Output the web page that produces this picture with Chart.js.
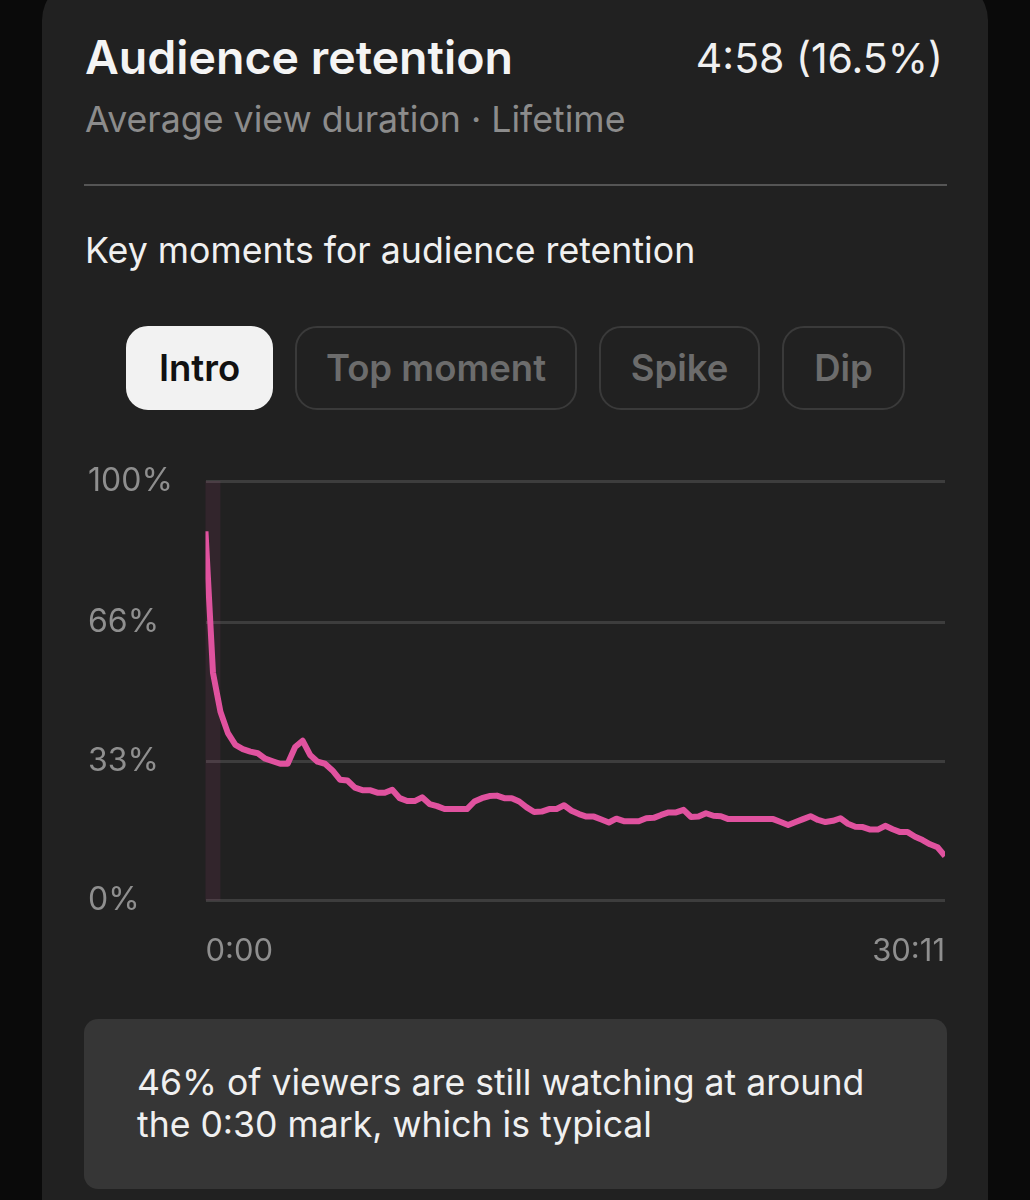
<!DOCTYPE html>
<html>
<head>
<meta charset="utf-8">
<title>Audience retention</title>
<script src="https://cdn.jsdelivr.net/npm/chart.js@4"></script>
<style>
html, body { margin: 0; padding: 0; background: #0a0a0a; }
body { width: 1030px; height: 1200px; overflow: hidden; position: relative; font-family: Inter, "Noto Sans", sans-serif; }
.card { position: absolute; left: 42px; top: -20px; width: 946px; height: 1300px; background: #212121; border-radius: 40px; }
.txt { position: absolute; white-space: nowrap; line-height: 1; }
.title { left: 85px; top: 34px; font-size: 46.5px; font-weight: 600; color: #f4f4f4; }
.stat { right: 87px; top: 38px; font-size: 41px; color: #f0f0f0; }
.sub { left: 85px; top: 102px; font-size: 35.7px; color: #8c8c8c; }
.rule { position: absolute; left: 84px; top: 184px; width: 863px; height: 2px; background: #555; }
.key { left: 85px; top: 233px; font-size: 35.7px; color: #f0f0f0; }
.pill { position: absolute; top: 326px; height: 84px; box-sizing: border-box; border: 2px solid #3a3a3a; border-radius: 22px; color: #6c6c6c; font-size: 36.5px; font-weight: 600; display: flex; align-items: center; justify-content: center; }
.pill.on { background: #f2f2f2; border-color: #f2f2f2; color: #111; }
#wrap { position: absolute; left: 60px; top: 460px; width: 910px; height: 520px; }
.note { position: absolute; left: 84px; top: 1019px; width: 863px; height: 170px; background: #363636; border-radius: 14px; }
.note div { position: absolute; left: 53px; top: 43px; font-size: 35.6px; line-height: 42px; color: #f0f0f0; white-space: nowrap; }
</style>
</head>
<body>
<div class="card"></div>
<div class="txt title">Audience retention</div>
<div class="txt stat">4:58 (16.5%)</div>
<div class="txt sub">Average view duration · Lifetime</div>
<div class="rule"></div>
<div class="txt key">Key moments for audience retention</div>
<div class="pill on" style="left:126px;width:147px">Intro</div>
<div class="pill" style="left:295px;width:282px">Top moment</div>
<div class="pill" style="left:599px;width:161px">Spike</div>
<div class="pill" style="left:782px;width:123px">Dip</div>
<div id="wrap"><canvas id="retentionChart"></canvas></div>
<div class="note"><div>46% of viewers are still watching at around<br>the 0:30 mark, which is typical</div></div>

<script>
// values, one per 1/99 of the video
const retention = [
    88, 54.3, 45, 39.9, 37.1, 36.1, 35.5, 35.1, 33.8, 33.2,
    32.6, 32.6, 36.6, 38.1, 34.7, 33.1, 32.6, 31, 28.8, 28.6,
    26.9, 26.3, 26.3, 25.7, 25.7, 26.4, 24.4, 23.7, 23.7, 24.6,
    23, 22.5, 21.8, 21.8, 21.8, 21.8, 23.6, 24.4, 24.9, 25,
    24.4, 24.4, 23.6, 22.2, 21.1, 21.2, 21.8, 21.8, 22.7, 21.4,
    20.6, 20, 20, 19.3, 18.6, 19.5, 18.9, 18.9, 18.9, 19.6,
    19.7, 20.4, 21, 21, 21.6, 19.9, 20, 20.8, 20.2, 20.1,
    19.4, 19.4, 19.4, 19.4, 19.4, 19.4, 19.4, 18.7, 18, 18.7,
    19.4, 20.1, 19.2, 18.7, 19, 19.6, 18.3, 17.6, 17.5, 16.9,
    16.9, 17.8, 17, 16.3, 16.3, 15.2, 14.4, 13.4, 12.7, 10.6,
];
const yTicks = [0, 33.2, 66.2, 100];
const xTicks = [0, 99];
const xTickLabels = ['0:00', '30:11'];
const introRange = [0, 2];   // the highlighted "Intro" stretch, in point indexes

const introBand = {
    id: 'introBand',
    beforeDatasetsDraw(chart) {
        const { ctx, chartArea, scales } = chart;
        const left = scales.x.getPixelForValue(introRange[0]);
        const right = scales.x.getPixelForValue(introRange[1]);
        ctx.save();
        ctx.fillStyle = 'rgba(224,82,159,0.09)';
        ctx.fillRect(left, chartArea.top, right - left, chartArea.bottom - chartArea.top);
        ctx.restore();
    },
};

new Chart(document.getElementById('retentionChart'), {
    type: 'line',
    data: {
        datasets: [{
            data: retention.map((v, i) => ({ x: i, y: v })),
            borderColor: '#e0529f',
            borderWidth: 6,
            pointRadius: 0,
            tension: 0,
            borderJoinStyle: 'round',
        }],
    },
    plugins: [introBand],
    options: {
        responsive: true,
        maintainAspectRatio: false,
        animation: false,
        layout: { padding: { left: 28, right: 25, top: 21, bottom: 0 } },
        plugins: { legend: { display: false }, tooltip: { enabled: false } },
        scales: {
            x: {
                type: 'linear',
                min: 0,
                max: 99,
                afterBuildTicks: s => { s.ticks = xTicks.map(v => ({ value: v })); },
                afterFit: s => { s.height = 79.5; s.paddingLeft = 0; s.paddingRight = 0; },
                grid: { display: false },
                border: { display: false },
                ticks: {
                    color: '#8f8f8f',
                    font: { family: 'Inter', size: 31 },
                    padding: 25,
                    maxRotation: 0,
                    align: 'inner',
                    callback: v => xTickLabels[xTicks.indexOf(v)],
                },
            },
            y: {
                min: 0,
                max: 100,
                afterBuildTicks: s => { s.ticks = yTicks.map(v => ({ value: v })); },
                afterFit: s => { s.width = 117.5; s.paddingTop = 0; s.paddingBottom = 0; },
                grid: { color: '#3d3d3d', lineWidth: 3, drawTicks: false },
                border: { display: false },
                ticks: {
                    color: '#8f8f8f',
                    font: { family: 'Inter', size: 32 },
                    crossAlign: 'far',
                    padding: 0,
                    callback: v => Math.round(v) + '%',
                },
            },
        },
    },
});
</script>
</body>
</html>
